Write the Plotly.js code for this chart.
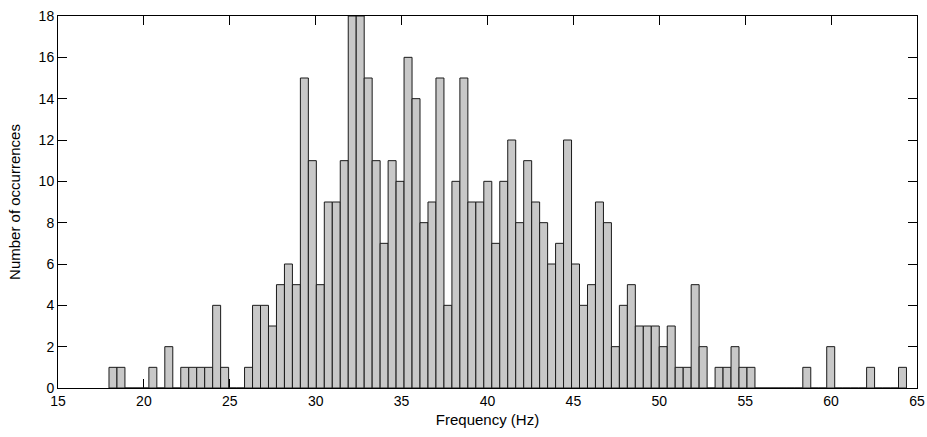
<!DOCTYPE html>
<html>
<head>
<meta charset="utf-8">
<script src="https://cdn.plot.ly/plotly-3.0.1.min.js"></script>
<style>
  html, body { margin: 0; padding: 0; background: #ffffff; }
  #chart { width: 927px; height: 437px; }
</style>
</head>
<body>
<div id="chart"></div>
<script>
// Histogram of frequencies: 100 equal-width bins
const binStart = 18.2;    // centre of the first bin (Hz)
const binWidth = 0.4642;  // bin width (Hz)

const counts = [
  1, 1, 0, 0, 0, 1, 0, 2, 0, 1,
  1, 1, 1, 4, 1, 0, 0, 1, 4, 4,
  3, 5, 6, 5, 15, 11, 5, 9, 9, 11,
  18, 18, 15, 11, 7, 11, 10, 16, 14, 8,
  9, 15, 4, 10, 15, 9, 9, 10, 7, 10,
  12, 8, 11, 9, 8, 6, 7, 12, 6, 4,
  5, 9, 8, 2, 4, 5, 3, 3, 3, 2,
  3, 1, 1, 5, 2, 0, 1, 1, 2, 1,
  1, 0, 0, 0, 0, 0, 0, 1, 0, 0,
  2, 0, 0, 0, 0, 1, 0, 0, 0, 1
];

const xTicks = [15, 20, 25, 30, 35, 40, 45, 50, 55, 60, 65];
const yTicks = [0, 2, 4, 6, 8, 10, 12, 14, 16, 18];

const xTitle = 'Frequency (Hz)';
const yTitle = 'Number of occurrences';

const fontFamily = '"Liberation Sans", Arial, Helvetica, sans-serif';

const trace = {
  type: 'bar',
  x0: binStart,
  dx: binWidth,
  y: counts,
  width: binWidth,
  marker: {
    color: '#c8c8c8',
    line: { color: '#1a1a1a', width: 1 }
  },
  hoverinfo: 'x+y'
};

const axisCommon = {
  showline: true,
  linecolor: '#000000',
  linewidth: 1,
  mirror: 'allticks',
  ticks: 'inside',
  ticklen: 9,
  tickwidth: 1,
  tickcolor: '#000000',
  showgrid: false,
  zeroline: false,
  tickmode: 'array',
  tickfont: { family: fontFamily, size: 14, color: '#000000' },
  layer: 'below traces'
};

const layout = {
  width: 927,
  height: 437,
  margin: { l: 58, r: 10, t: 16, b: 49 },
  paper_bgcolor: '#ffffff',
  plot_bgcolor: '#ffffff',
  bargap: 0,
  showlegend: false,
  font: { family: fontFamily, color: '#000000' },
  xaxis: Object.assign({}, axisCommon, {
    range: [15, 65],
    tickvals: xTicks,
    ticktext: xTicks.map(String),
    title: { text: xTitle, font: { family: fontFamily, size: 15, color: '#000000' }, standoff: 6 }
  }),
  yaxis: Object.assign({}, axisCommon, {
    range: [0, 18],
    tickvals: yTicks,
    ticktext: yTicks.map(String),
    title: { text: yTitle, font: { family: fontFamily, size: 15, color: '#000000' }, standoff: 14 }
  })
};

Plotly.newPlot('chart', [trace], layout, { displayModeBar: false, staticPlot: true });
</script>
</body>
</html>
